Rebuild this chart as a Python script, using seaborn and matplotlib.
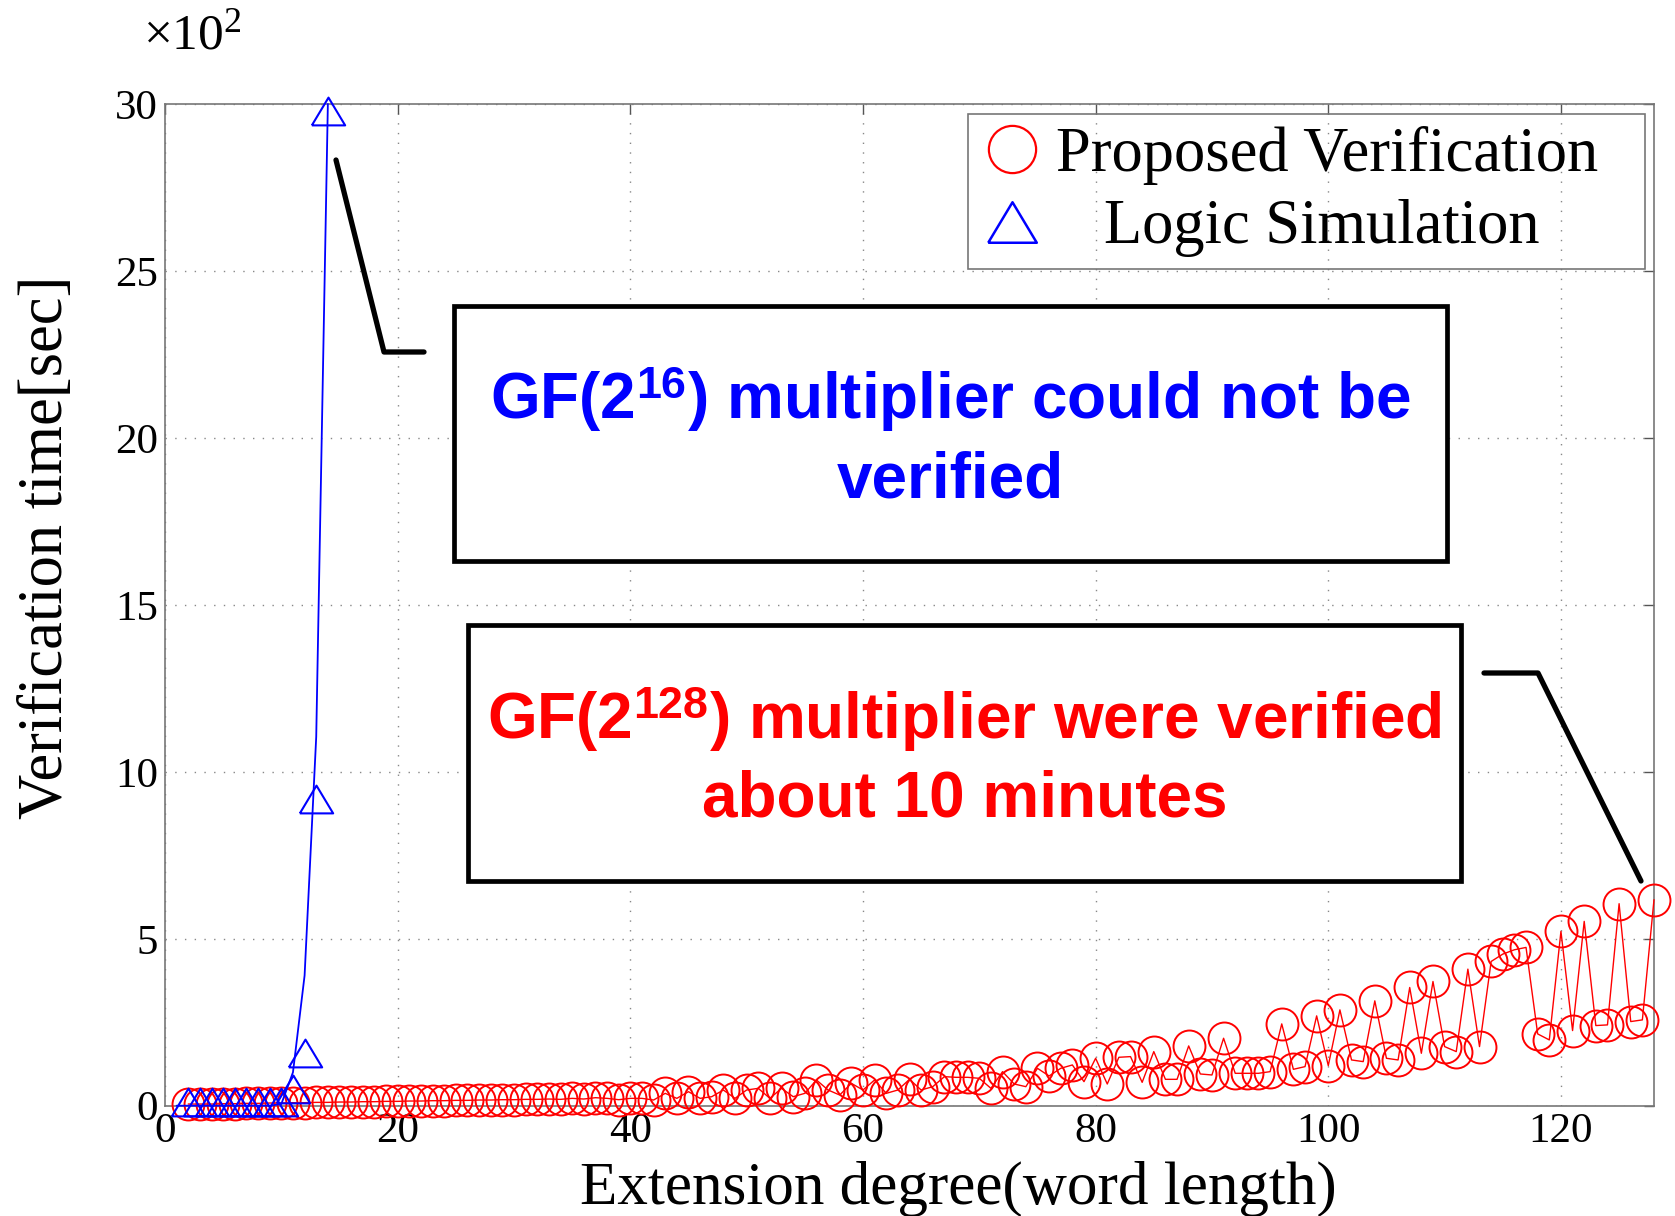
import matplotlib
matplotlib.use("Agg")
import matplotlib.pyplot as plt
from matplotlib.lines import Line2D
from matplotlib.patches import Rectangle
import seaborn as sns
import pandas as pd

# ==========================================
# DATA (verification time, x10^2 sec)
# ==========================================
proposed_degree = list(range(2, 129))
proposed_time = [
    0.05, 0.05, 0.05, 0.06, 0.06, 0.07, 0.07, 0.08, 0.08,              # 2-10
    0.09, 0.09, 0.10, 0.10, 0.11, 0.11, 0.12, 0.12, 0.13, 0.13,        # 11-20
    0.14, 0.14, 0.15, 0.15, 0.16, 0.16, 0.17, 0.17, 0.18, 0.18,        # 21-30
    0.19, 0.19, 0.20, 0.19, 0.22, 0.20, 0.24, 0.22, 0.18, 0.22,        # 31-40
    0.22, 0.17, 0.37, 0.22, 0.42, 0.22, 0.27, 0.47, 0.22, 0.47,        # 41-50
    0.52, 0.22, 0.52, 0.27, 0.37, 0.77, 0.47, 0.32, 0.67, 0.47,        # 51-60
    0.77, 0.37, 0.47, 0.79, 0.47, 0.57, 0.87, 0.85, 0.85, 0.82,        # 61-70
    0.52, 1.02, 0.65, 0.57, 1.12, 0.89, 1.12, 1.22, 0.72, 1.42,        # 71-80
    0.65, 1.45, 1.47, 0.70, 1.62, 0.79, 0.79, 1.79, 0.95, 0.92,        # 81-90
    2.02, 0.97, 0.97, 0.97, 1.02, 2.45, 1.09, 1.17, 2.69, 1.20,        # 91-100
    2.87, 1.37, 1.32, 3.14, 1.42, 1.37, 3.54, 1.57, 3.72, 1.77,        # 101-110
    1.62, 4.09, 1.77, 4.32, 4.54, 4.67, 4.74, 2.15, 1.97, 5.22,        # 111-120
    2.25, 5.52, 2.40, 2.42, 6.05, 2.52, 2.57, 6.17,                    # 121-128
]

sim_line_degree = list(range(1, 15))
sim_line_time = [0.0, 0.0, 0.0, 0.0, 0.0, 0.0, 0.0, 0.0, 0.0, 0.05, 1.0, 3.9, 11.05, 30.0]

sim_mark_degree = list(range(2, 15))
sim_mark_time = [0.1, 0.1, 0.1, 0.1, 0.1, 0.1, 0.1, 0.1, 0.1, 0.5, 1.57, 9.2, 29.8]

x_ticks = [0, 20, 40, 60, 80, 100, 120]
y_ticks = [0, 5, 10, 15, 20, 25, 30]

df_prop = pd.DataFrame({"degree": proposed_degree, "time": proposed_time})
df_line = pd.DataFrame({"degree": sim_line_degree, "time": sim_line_time})
df_mark = pd.DataFrame({"degree": sim_mark_degree, "time": sim_mark_time})

# ==========================================
# STYLE
# ==========================================
sns.set_style("white")
plt.rcParams["font.family"] = ["Liberation Serif", "DejaVu Serif"]
plt.rcParams["text.color"] = "black"
plt.rcParams["axes.labelcolor"] = "black"
plt.rcParams["mathtext.fontset"] = "custom"
plt.rcParams["mathtext.rm"] = "Liberation Serif"
plt.rcParams["mathtext.it"] = "Liberation Serif:italic"
plt.rcParams["mathtext.bf"] = "Liberation Sans:bold"

W, H = 1675, 1216
fig = plt.figure(figsize=(W / 100, H / 100), dpi=100)
ax_h = 1105.7 - 104
ax = fig.add_axes([165 / W, 1 - 1105.7 / H, (1654 - 165) / W, ax_h / H])

# MATLAB-like triangle: wider than tall, closed outline
tri = [(-1.2, -1.0), (1.2, -1.0), (0.0, 1.0), (-1.2, -1.0)]

# red: proposed verification
sns.lineplot(data=df_prop, x="degree", y="time", ax=ax, color="red", lw=1.0,
             marker="o", markersize=23, mfc="none", mec="red", mew=1.4,
             clip_on=False, zorder=3)
# blue: logic simulation line and markers
sns.lineplot(data=df_line, x="degree", y="time", ax=ax, color="blue", lw=1.3,
             clip_on=False, zorder=4)
ax.plot(df_mark["degree"], df_mark["time"], ls="none", marker=tri, markersize=24,
        mfc="none", mec="blue", mew=1.5, clip_on=False, zorder=5)

ax.set_xlim(0, 128)
ax.set_ylim(0, 30)
ax.set_xticks(x_ticks)
ax.set_yticks(y_ticks)
ax.tick_params(axis="both", labelsize=31, direction="in", length=7, width=1,
               top=True, right=True, colors="#555555", labelcolor="black", pad=5)
for s in ax.spines.values():
    s.set_color("#777777")
    s.set_linewidth(1.2)
ax.grid(True, linestyle=(0, (1, 6)), color="#888888", linewidth=1.0)

ax.set_xlabel("Extension degree(word length)", fontsize=44)
ax.xaxis.set_label_coords((958 - 165) / 1489, -(1161 - 1105.7) / ax_h)
ax.set_ylabel("Verification time[sec]", fontsize=45)
ax.yaxis.set_label_coords((76 - 165) / 1489, (1105.7 - 547) / ax_h)
fig.text(143 / W, 1 - 36 / H, r"$\times10^{2}$", fontsize=37, ha="left", va="center")

# legend: frame drawn separately so it can match the reference box
handles = [
    Line2D([], [], ls="none", marker="o", markersize=34, mfc="none", mec="red", mew=1.6),
    Line2D([], [], ls="none", marker=tri, markersize=35, mfc="none", mec="blue", mew=1.8),
]
leg = ax.legend(handles, ["Proposed Verification", "Logic Simulation"],
                loc="upper left", bbox_to_anchor=(987 / W, 1 - 126 / H),
                bbox_transform=fig.transFigure, fontsize=45, frameon=False,
                handletextpad=0.31, labelspacing=0.23, borderpad=0,
                handlelength=0.8, borderaxespad=0)
leg.get_texts()[1].set_x(48)
fig.patches.append(Rectangle((968 / W, 1 - 269 / H), (1645 - 968) / W, (269 - 114) / H,
                             transform=fig.transFigure, facecolor="none",
                             edgecolor="#777777", linewidth=1.2, zorder=5))


# ==========================================
# CALLOUT BOXES (figure pixel coordinates)
# ==========================================
def fx(px):
    return px / W


def fy(py):
    return 1 - py / H


boxes = [
    ((454, 306), (1447, 561), "blue",
     "GF(2$^{\\mathbf{16}}$) multiplier could not be\nverified"),
    ((468, 625), (1461, 881), "red",
     "GF(2$^{\\mathbf{128}}$) multiplier were verified\nabout 10 minutes"),
]
for (x0, y0), (x1, y1), col, label in boxes:
    fig.patches.append(Rectangle((fx(x0), fy(y1)), fx(x1) - fx(x0), fy(y0) - fy(y1),
                                 transform=fig.transFigure, facecolor="white",
                                 edgecolor="black", linewidth=3.4, zorder=6))
    fig.text(fx((x0 + x1) / 2), fy((y0 + y1) / 2 + 4), label, color=col,
             fontsize=46, fontweight="bold", family=["Liberation Sans", "DejaVu Sans"],
             ha="center", va="center", linespacing=1.33, zorder=7)

callouts = [
    ([336, 384, 424], [160, 352, 352]),
    ([1484, 1538, 1641], [673, 673, 881]),
]
for xs, ys in callouts:
    fig.lines.append(Line2D([fx(v) for v in xs], [fy(v) for v in ys],
                            transform=fig.transFigure, color="black", lw=3.8,
                            zorder=6))

fig.savefig("out.png", dpi=100)
